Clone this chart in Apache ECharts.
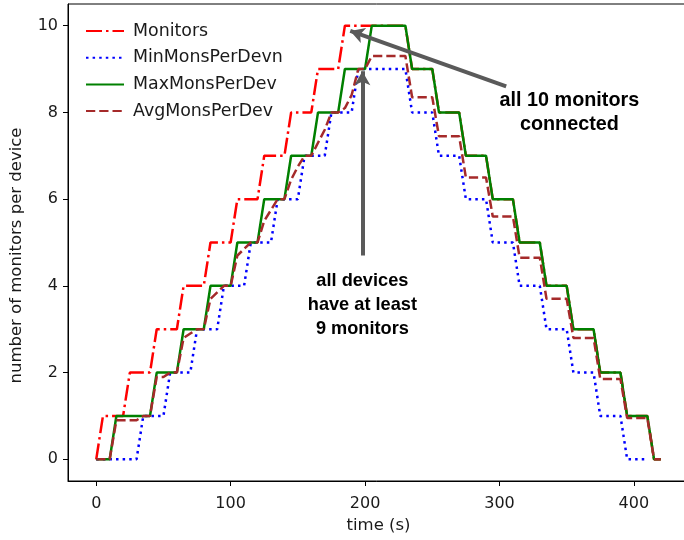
<!DOCTYPE html>
<html>
<head>
<meta charset="utf-8">
<script src="https://cdn.jsdelivr.net/npm/echarts@6/dist/echarts.min.js"></script>
<style>
  html, body { margin: 0; padding: 0; background: #fff; }
  #main { width: 684px; height: 540px; }
</style>
</head>
<body>
<div id="main"></div>
<script>
// time axis, one sample every 5 s
var times = [0, 5, 10, 15, 20, 25, 30, 35, 40, 45, 50, 55, 60, 65, 70, 75, 80, 85, 90, 95,
  100, 105, 110, 115, 120, 125, 130, 135, 140, 145, 150, 155, 160, 165, 170, 175, 180, 185, 190, 195,
  200, 205, 210, 215, 220, 225, 230, 235, 240, 245, 250, 255, 260, 265, 270, 275, 280, 285, 290, 295,
  300, 305, 310, 315, 320, 325, 330, 335, 340, 345, 350, 355, 360, 365, 370, 375, 380, 385, 390, 395,
  400, 405, 410, 415, 420];

var monitors = [0, 1, 1, 1, 1, 2, 2, 2, 2, 3, 3, 3, 3, 4, 4, 4, 4, 5, 5, 5,
  5, 6, 6, 6, 6, 7, 7, 7, 7, 8, 8, 8, 8, 9, 9, 9, 9, 10, 10, 10,
  10, 10, 10, 10, 10, 10, 10, 9, 9, 9, 9, 8, 8, 8, 8, 7, 7, 7, 7, 6,
  6, 6, 6, 5, 5, 5, 5, 4, 4, 4, 4, 3, 3, 3, 3, 2, 2, 2, 2, 1,
  1, 1, 1, 0, 0];

var minMons = [0, 0, 0, 0, 0, 0, 0, 1, 1, 1, 1, 2, 2, 2, 2, 3, 3, 3, 3, 4,
  4, 4, 4, 5, 5, 5, 5, 6, 6, 6, 6, 7, 7, 7, 7, 8, 8, 8, 8, 9,
  9, 9, 9, 9, 9, 9, 9, 8, 8, 8, 8, 7, 7, 7, 7, 6, 6, 6, 6, 5,
  5, 5, 5, 4, 4, 4, 4, 3, 3, 3, 3, 2, 2, 2, 2, 1, 1, 1, 1, 0,
  0, 0, 0, null, null];

var maxMons = [0, 0, 0, 1, 1, 1, 1, 1, 1, 2, 2, 2, 2, 3, 3, 3, 3, 4, 4, 4,
  4, 5, 5, 5, 5, 6, 6, 6, 6, 7, 7, 7, 7, 8, 8, 8, 8, 9, 9, 9,
  9, 10, 10, 10, 10, 10, 10, 9, 9, 9, 9, 8, 8, 8, 8, 7, 7, 7, 7, 6,
  6, 6, 6, 5, 5, 5, 5, 4, 4, 4, 4, 3, 3, 3, 3, 2, 2, 2, 2, 1,
  1, 1, 1, 0, 0];

var avgMons = [0, 0, 0, 0.9, 0.9, 0.9, 0.9, 1, 1, 1.9, 1.9, 2, 2, 2.8, 2.9, 3, 3, 3.7, 3.85, 4,
  4, 4.7, 4.85, 5, 5, 5.5, 5.75, 6, 6, 6.45, 6.75, 7, 7, 7.3, 7.6, 8, 8, 8.1, 8.4, 9,
  9, 9.3, 9.3, 9.3, 9.3, 9.3, 9.3, 8.35, 8.35, 8.35, 8.35, 7.45, 7.45, 7.45, 7.45, 6.5, 6.5, 6.5, 6.5, 5.6,
  5.6, 5.6, 5.6, 4.65, 4.65, 4.65, 4.65, 3.7, 3.7, 3.7, 3.7, 2.8, 2.8, 2.8, 2.8, 1.85, 1.85, 1.85, 1.85, 0.95,
  0.95, 0.95, 0.95, 0, 0];

var xTicks = [0, 100, 200, 300, 400];
var yTicks = [0, 2, 4, 6, 8, 10];

function pairs(vals) {
  var out = [];
  for (var i = 0; i < times.length; i++) {
    out.push([times[i], vals[i]]);
  }
  return out;
}

var font = 'DejaVu Sans';
var arrowColor = '#5a5a5a';
function note(text, size) {
  return {
    show: true,
    position: 'inside',
    formatter: text,
    fontFamily: 'Liberation Sans',
    fontWeight: 'bold',
    fontSize: size,
    lineHeight: 24,
    color: '#000',
    align: 'center',
    verticalAlign: 'middle'
  };
}

var myChart = echarts.init(document.getElementById('main'), null, { renderer: 'canvas' });

myChart.setOption({
  animation: false,
  backgroundColor: '#fff',
  grid: {
    left: 68,
    top: 4,
    right: -5,
    bottom: 59,
    containLabel: false,
    outerBoundsMode: 'none',
    show: true,
    borderColor: '#000',
    borderWidth: 1,
    backgroundColor: 'transparent'
  },
  legend: {
    orient: 'vertical',
    left: 80,
    top: 16,
    itemWidth: 38,
    itemHeight: 14,
    itemGap: 6.7,
    itemStyle: { opacity: 0 },
    textStyle: { fontFamily: font, fontSize: 17.4, lineHeight: 20, color: '#1a1a1a', padding: [0, 0, 0, 4] },
    data: ['Monitors', 'MinMonsPerDevn', 'MaxMonsPerDev', 'AvgMonsPerDev']
  },
  xAxis: {
    type: 'value',
    min: -21,
    max: 441,
    name: 'time (s)',
    nameLocation: 'middle',
    nameGap: 35,
    nameTextStyle: { fontFamily: font, fontSize: 16.5, color: '#1a1a1a' },
    axisLine: { show: true, onZero: false, lineStyle: { color: '#000', width: 1 } },
    axisTick: { show: true, length: 5, lineStyle: { color: '#000' }, customValues: xTicks },
    axisLabel: { fontFamily: font, fontSize: 16, color: '#1a1a1a', margin: 15, customValues: xTicks },
    splitLine: { show: false }
  },
  yAxis: {
    type: 'value',
    min: -0.5,
    max: 10.5,
    name: 'number of monitors per device',
    nameLocation: 'middle',
    nameGap: 43,
    nameTextStyle: { fontFamily: font, fontSize: 16.5, color: '#1a1a1a', padding: [0, 26, 0, 0] },
    axisLine: { show: true, onZero: false, lineStyle: { color: '#000', width: 1 } },
    axisTick: { show: true, length: 5, lineStyle: { color: '#000' }, customValues: yTicks },
    axisLabel: { fontFamily: font, fontSize: 16, color: '#1a1a1a', margin: 10, customValues: yTicks },
    splitLine: { show: false }
  },
  series: [
    {
      name: 'Monitors',
      type: 'line',
      symbol: 'none',
      color: '#ff0000',
      lineStyle: { color: '#ff0000', width: 2.5, type: [16, 4, 2.5, 4] },
      data: pairs(monitors)
    },
    {
      name: 'MinMonsPerDevn',
      type: 'line',
      symbol: 'none',
      color: '#0000ff',
      lineStyle: { color: '#0000ff', width: 2.5, type: [2.5, 4.1] },
      data: pairs(minMons)
    },
    {
      name: 'MaxMonsPerDev',
      type: 'line',
      symbol: 'none',
      color: '#008000',
      lineStyle: { color: '#008000', width: 2.5 },
      data: pairs(maxMons)
    },
    {
      name: 'AvgMonsPerDev',
      type: 'line',
      symbol: 'none',
      color: '#a52a2a',
      lineStyle: { color: '#a52a2a', width: 2.5, type: [9.25, 4] },
      data: pairs(avgMons),
      markLine: {
        silent: true,
        symbol: ['none', 'arrow'],
        symbolSize: [12, 14],
        label: { show: false },
        lineStyle: { color: arrowColor, width: 4, type: 'solid' },
        emphasis: { disabled: true },
        data: [
          [{ coord: [198, 4.7] }, { coord: [198, 8.95] }],
          [{ coord: [305, 8.6] }, { coord: [189, 9.88] }]
        ]
      },
      markPoint: {
        silent: true,
        symbol: 'circle',
        symbolSize: 0,
        data: [
          { coord: [198, 3.55], label: note('all devices\nhave at least\n9 monitors', 18.2) },
          { coord: [352, 8.0], label: note('all 10 monitors\nconnected', 19.8) }
        ]
      }
    }
  ]
});
</script>
</body>
</html>
